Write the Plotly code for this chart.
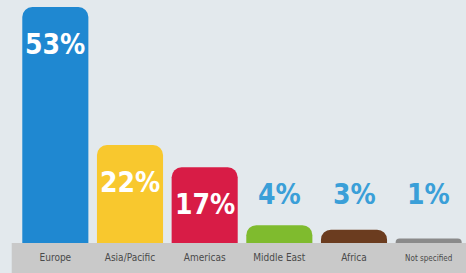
import plotly.graph_objects as go

categories = ["Europe", "Asia/Pacific", "Americas", "Middle East", "Africa", "Not specified"]
values = [53, 22, 17, 4, 3, 1]
labels = ["53%", "22%", "17%", "4%", "3%", "1%"]
bar_colors = ["#1f88d1", "#f8c82e", "#d81c46", "#7fbb2e", "#6b3c1f", "#8a8a8a"]
tick_text = ["Europe", "Asia/Pacific", "Americas", "Middle East", "Africa",
             "<span style='font-size:8px'>Not specified</span>"]

BG = "#e3e9ed"
COND = "DejaVu Sans Condensed, Liberation Sans Narrow, Roboto, sans-serif"

fig = go.Figure()
fig.add_trace(go.Bar(
    x=categories, y=values,
    marker=dict(color=bar_colors, cornerradius=10, line=dict(width=0)),
    hoverinfo="skip",
))

# value labels
for c, v, t in zip(categories, values, labels):
    if v >= 10:
        fig.add_annotation(x=c, y=v, text="<b>" + t + "</b>", showarrow=False, yanchor="top", yshift=-19,
                           font=dict(family=COND, size=28, color="white"))
    else:
        fig.add_annotation(x=c, y=0.205, yref="paper", text="<b>" + t + "</b>", showarrow=False,
                           yanchor="middle",
                           font=dict(family=COND, size=28, color="#3a9fd8"))

# gray base band
fig.add_shape(type="rect", xref="paper", yref="paper", x0=-0.014, x1=1.0, y0=-0.13, y1=0.0,
              fillcolor="#c9c9c9", line=dict(width=0), layer="below")

fig.update_layout(
    width=466, height=273, autosize=False,
    margin=dict(l=18, r=0, t=7, b=30),
    paper_bgcolor=BG, plot_bgcolor=BG,
    bargap=0.115, showlegend=False,
    xaxis=dict(tickmode="array", tickvals=categories, ticktext=tick_text,
               tickfont=dict(family=COND, size=10, color="#4a4a4a"),
               ticks="outside", ticklen=5, tickcolor="rgba(0,0,0,0)",
               showline=False, showgrid=False, zeroline=False, fixedrange=True),
    yaxis=dict(range=[0, 53], visible=False, showgrid=False, zeroline=False, fixedrange=True),
)

fig.write_html("out.html", config={"displayModeBar": False},
               post_script="document.body.style.margin='0';document.body.style.background='#e3e9ed';")
